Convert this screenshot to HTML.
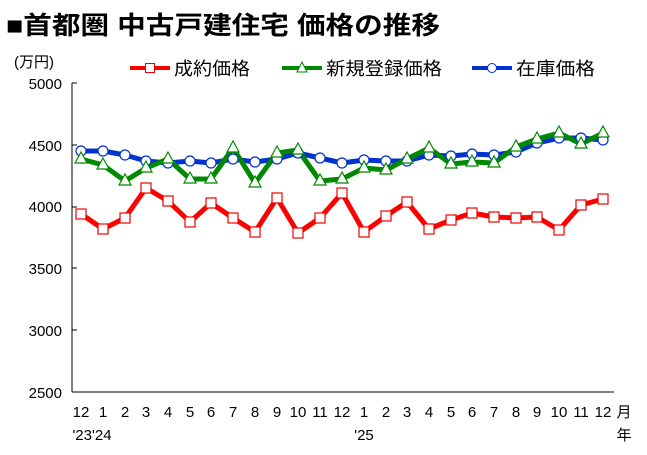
<!DOCTYPE html>
<html><head><meta charset="utf-8"><style>
body{margin:0;background:#fff;}
svg{display:block;font-family:"Liberation Sans","Noto Sans CJK JP",sans-serif;}
</style></head><body>
<svg width="647" height="455" viewBox="0 0 647 455">
<text x="6" y="34" font-size="25" font-weight="bold" textLength="434" lengthAdjust="spacingAndGlyphs">■首都圏 中古戸建住宅 価格の推移</text>
<text x="14" y="67" font-size="15">(万円)</text>
<g font-size="18">
<line x1="130" y1="68" x2="170" y2="68" stroke="#f00" stroke-width="4"/><rect x="145.5" y="63.5" width="9" height="9" fill="#fff" stroke="#e00"/>
<text x="174" y="75" textLength="76" lengthAdjust="spacingAndGlyphs">成約価格</text>
<line x1="282" y1="68" x2="322" y2="68" stroke="#080" stroke-width="4"/><polygon points="302,62 307,72 297,72" fill="#fff" stroke="#080"/>
<text x="326" y="75" textLength="116" lengthAdjust="spacingAndGlyphs">新規登録価格</text>
<line x1="472" y1="68" x2="512" y2="68" stroke="#03c" stroke-width="4"/><circle cx="492" cy="68" r="4.5" fill="#fff" stroke="#03c"/>
<text x="516" y="75" textLength="79" lengthAdjust="spacingAndGlyphs">在庫価格</text>
</g>
<g font-size="15" text-anchor="end">
<text x="62" y="89">5000</text><text x="62" y="151">4500</text><text x="62" y="212">4000</text>
<text x="62" y="274">3500</text><text x="62" y="336">3000</text><text x="62" y="398">2500</text>
</g>
<g stroke="#000" stroke-width="1">
<line x1="72" y1="83" x2="72" y2="392"/><line x1="72" y1="392" x2="614" y2="392"/>
<line x1="72" y1="83" x2="77" y2="83"/><line x1="72" y1="145" x2="77" y2="145"/><line x1="72" y1="207" x2="77" y2="207"/>
<line x1="72" y1="268" x2="77" y2="268"/><line x1="72" y1="330" x2="77" y2="330"/>
</g>
<g font-size="15" text-anchor="middle">
<text x="81" y="417">12</text><text x="103" y="417">1</text><text x="125" y="417">2</text><text x="146" y="417">3</text><text x="168" y="417">4</text><text x="190" y="417">5</text><text x="211" y="417">6</text><text x="233" y="417">7</text><text x="255" y="417">8</text><text x="277" y="417">9</text><text x="298" y="417">10</text><text x="320" y="417">11</text><text x="342" y="417">12</text><text x="364" y="417">1</text><text x="386" y="417">2</text><text x="407" y="417">3</text><text x="429" y="417">4</text><text x="451" y="417">5</text><text x="472" y="417">6</text><text x="494" y="417">7</text><text x="516" y="417">8</text><text x="537" y="417">9</text><text x="559" y="417">10</text><text x="581" y="417">11</text><text x="603" y="417">12</text>
<text x="624" y="417">月</text><text x="624" y="440">年</text>
<text x="92" y="440">'23'24</text><text x="364" y="440">'25</text>
</g>
<g fill="none" stroke-linejoin="round">
<polyline stroke="#03c" stroke-width="5" points="81,151 103,151 125,155 146,161 168,163 190,161 211,163 233,159 255,162 277,159 298,153 320,158 342,163 364,160 386,161 407,161 429,155 451,156 472,154 494,155 516,152 537,143 559,138 581,138 603,140"/>
<polyline stroke="#080" stroke-width="5" points="81,159 103,165 125,181 146,168 168,159 190,179 211,179 233,148 255,183 277,153 298,150 320,181 342,179 364,168 386,170 407,159 429,148 451,164 472,162 494,163 516,147 537,139 559,133 581,144 603,133"/>
<polyline stroke="#f00" stroke-width="5" points="81,214 103,229 125,218 146,188 168,201 190,222 211,203 233,218 255,232 277,198 298,233 320,218 342,193 364,232 386,216 407,202 429,229 451,220 472,213 494,217 516,218 537,217 559,230 581,205 603,199"/>
</g>
<g id="m"></g>
<script>
const ns="http://www.w3.org/2000/svg",g=document.getElementById("m");
const xs=[81,103,125,146,168,190,211,233,255,277,298,320,342,364,386,407,429,451,472,494,516,537,559,581,603];
const b=[151,151,155,161,163,161,163,159,162,159,153,158,163,160,161,161,155,156,154,155,152,143,138,138,140];
const gr=[159,165,181,168,159,179,179,148,183,153,150,181,179,168,170,159,148,164,162,163,147,139,133,144,133];
const r=[214,229,218,188,201,222,203,218,232,198,233,218,193,232,216,202,229,220,213,217,218,217,230,205,199];
function el(t,a){const e=document.createElementNS(ns,t);for(const k in a)e.setAttribute(k,a[k]);g.appendChild(e);}
xs.forEach((x,i)=>{
el("circle",{cx:x,cy:b[i],r:5,fill:"#fff",stroke:"#03c","stroke-width":1.2});
el("polygon",{points:`${x},${gr[i]-7} ${x+6},${gr[i]+4} ${x-6},${gr[i]+4}`,fill:"#fff",stroke:"#080","stroke-width":1.2});
el("rect",{x:x-5,y:r[i]-5,width:10,height:10,fill:"#fff",stroke:"#e00","stroke-width":1.2});
});
</script>
</svg>
</body></html>
